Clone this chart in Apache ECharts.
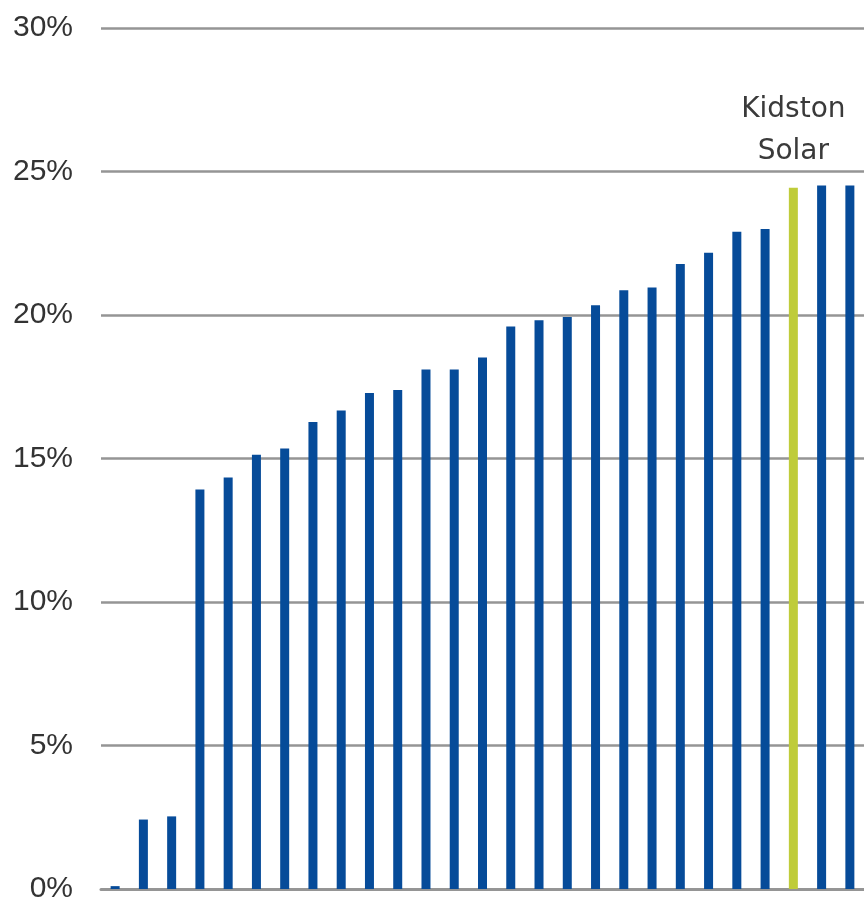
<!DOCTYPE html>
<html>
<head>
<meta charset="utf-8">
<script src="https://cdn.jsdelivr.net/npm/echarts@6/dist/echarts.min.js"></script>
<style>html,body{margin:0;padding:0;background:#fff;}#c{width:864px;height:905px;}</style>
</head>
<body>
<div id="c"></div>
<script>
var categories = ['1','2','3','4','5','6','7','8','9','10','11','12','13','14','15','16','17','18','19','20','21','22','23','24','25','26','27'];
var values = [0.1, 2.42, 2.53, 13.92, 14.34, 15.13, 15.35, 16.27, 16.67, 17.28, 17.39, 18.1, 18.1, 18.52, 19.6, 19.82, 19.93, 20.34, 20.86, 20.96, 21.78, 22.17, 22.9, 23.0, 24.43, 24.51, 24.51];
var highlightIndex = 24;
var highlightLabel = 'Kidston\nSolar';
var yTicks = [0, 5, 10, 15, 20, 25, 30];

var BLUE = '#064b99';
var GREEN = '#bfcc3a';

var data = values.map(function (v, i) {
  if (i === highlightIndex) {
    return {
      value: v,
      itemStyle: { color: GREEN, borderColor: GREEN, borderWidth: 2 },
      label: {
        show: true,
        position: 'top',
        distance: 15,
        formatter: highlightLabel,
        fontFamily: 'DejaVu Sans',
        fontSize: 28,
        lineHeight: 42,
        color: '#3a3a3a'
      }
    };
  }
  return v;
});

var chart = echarts.init(document.getElementById('c'));
chart.setOption({
  animation: false,
  backgroundColor: '#fff',
  grid: { left: 101, top: 28, width: 765, height: 861, containLabel: false },
  xAxis: {
    type: 'category',
    data: categories,
    axisLine: { show: true, lineStyle: { color: '#959595', width: 3 } },
    axisTick: { show: false },
    axisLabel: { show: false },
    splitLine: { show: false }
  },
  yAxis: {
    type: 'value',
    min: yTicks[0],
    max: yTicks[yTicks.length - 1],
    interval: 5,
    axisLine: { show: false },
    axisTick: { show: false },
    axisLabel: {
      formatter: '{value}%',
      fontFamily: 'Liberation Sans',
      fontSize: 30,
      color: '#333',
      margin: 28
    },
    splitLine: { lineStyle: { color: '#959595', width: 2.5 } }
  },
  series: [{
    type: 'bar',
    data: data,
    barWidth: 9,
    itemStyle: { color: BLUE }
  }]
});
</script>
</body>
</html>
